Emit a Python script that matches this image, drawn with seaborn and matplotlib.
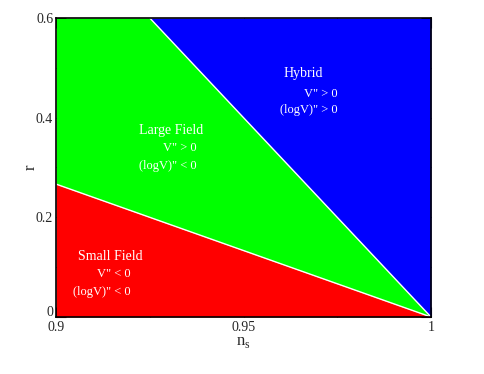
import matplotlib
matplotlib.use("Agg")
import matplotlib.pyplot as plt
import matplotlib.transforms as mtransforms
import seaborn as sns
from matplotlib.ticker import MultipleLocator

# boundaries
ns_grid = [0.9, 0.925, 1.0]
small_top = [0.2667, 0.2, 0.0]     # small field / large field boundary
large_top = [0.6, 0.6, 0.0]        # large field / hybrid boundary
r_max = [0.6, 0.6, 0.6]

line_small_ns = [0.9, 1.0]
line_small_r = [0.2667, 0.0]
line_hybrid_ns = [0.925, 1.0]
line_hybrid_r = [0.6, 0.0]

sns.set_style("ticks")
plt.rcParams['font.family'] = ['Liberation Serif', 'DejaVu Serif']
plt.rcParams['mathtext.fontset'] = 'custom'
plt.rcParams['mathtext.rm'] = 'Liberation Serif'

fig = plt.figure(figsize=(4.85, 3.74), dpi=100)
ax = fig.add_axes([0.1155, 0.1524, 0.7732, 0.7995])

ax.fill_between(ns_grid, 0, small_top, color='#ff0000', lw=0)
ax.fill_between(ns_grid, small_top, large_top, color='#00ff00', lw=0)
ax.fill_between(ns_grid, large_top, r_max, color='#0000ff', lw=0)

sns.lineplot(x=line_small_ns, y=line_small_r, ax=ax, color='white', lw=1.0)
sns.lineplot(x=line_hybrid_ns, y=line_hybrid_r, ax=ax, color='white', lw=1.0)

ax.set_xlim(0.9, 1.0)
ax.set_ylim(0, 0.6)
ax.set_xticks([0.9, 0.95, 1.0])
ax.set_xticklabels(['0.9', '0.95', '1'])
ax.set_yticks([0, 0.2, 0.4, 0.6])
ax.set_yticklabels(['0', '0.2', '0.4', '0.6'])
ax.xaxis.set_minor_locator(MultipleLocator(0.025))
ax.yaxis.set_minor_locator(MultipleLocator(0.1))
ax.tick_params(which='both', direction='in', top=True, right=True,
               labelsize=10, color='black', width=0.8)
ax.tick_params(axis='x', pad=3)
ax.tick_params(axis='y', pad=2)
ax.tick_params(which='major', length=7)
ax.tick_params(which='minor', length=4)
for s in ax.spines.values():
    s.set_linewidth(1.2)
    s.set_color('black')

# lift the y "0" a little so it does not sit on the x "0.9"
zero = ax.get_yticklabels()[0]
zero.set_transform(zero.get_transform() +
                   mtransforms.ScaledTranslation(0, 4 / 72, fig.dpi_scale_trans))

ax.set_xlabel(r'n$_\mathrm{s}$', fontsize=12, labelpad=0)
ax.set_ylabel('r', fontsize=12, labelpad=-2)

txt = dict(color='white', fontsize=9)
ax.text(0.9307, 0.375, 'Large Field', ha='center', va='center', fontsize=10, color='white')
ax.text(0.9376, 0.339, 'V" > 0', ha='right', va='center', **txt)
ax.text(0.9376, 0.303, '(logV)" < 0', ha='right', va='center', **txt)

ax.text(0.9659, 0.4896, 'Hybrid', ha='center', va='center', fontsize=10, color='white')
ax.text(0.9752, 0.4475, 'V" > 0', ha='right', va='center', **txt)
ax.text(0.9752, 0.415, '(logV)" > 0', ha='right', va='center', **txt)

ax.text(0.9144, 0.1224, 'Small Field', ha='center', va='center', fontsize=10, color='white')
ax.text(0.92, 0.0863, 'V" < 0', ha='right', va='center', **txt)
ax.text(0.92, 0.0502, '(logV)" < 0', ha='right', va='center', **txt)

fig.savefig('out.png', dpi=100)
